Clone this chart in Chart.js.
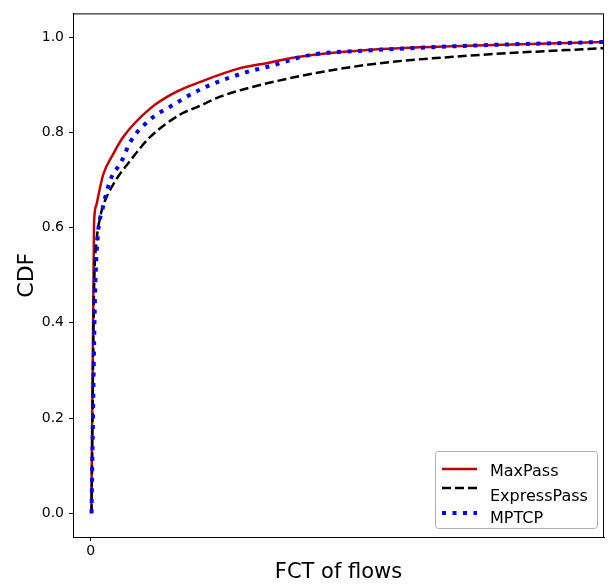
<!DOCTYPE html>
<html>
<head>
<meta charset="utf-8">
<script src="https://cdn.jsdelivr.net/npm/chart.js@4/dist/chart.umd.min.js"></script>
<style>
  html, body { margin: 0; padding: 0; background: #fff; }
  #wrap { width: 609px; height: 586px; }
</style>
</head>
<body>
<div id="wrap"><canvas id="myChart" width="609" height="586"></canvas></div>
<script>
// valeurs (x en unites arbitraires, 0 = premier tick)
const fctMaxPass = [0.12, 0.51, 0.64, 0.70, 1.17, 2.40, 4.35, 6.30, 11.56, 16.82, 21.31, 29.10, 34.95, 38.85, 53.86, 73.35, 100];
const cdfMaxPass = [0.0, 0.45, 0.60, 0.62, 0.65, 0.71, 0.754, 0.79, 0.85, 0.886, 0.906, 0.935, 0.947, 0.956, 0.973, 0.982, 0.99];

const fctExpress = [0.16, 0.64, 1.17, 1.81, 2.40, 4.35, 7.66, 11.56, 17.41, 21.31, 25.21, 36.31, 53.86, 73.35, 100];
const cdfExpress = [0.0, 0.46, 0.574, 0.62, 0.645, 0.69, 0.74, 0.79, 0.8375, 0.856, 0.875, 0.908, 0.942, 0.961, 0.977];

const fctMptcp = [0.16, 0.84, 1.42, 2.20, 3.76, 6.04, 7.66, 11.56, 15.46, 21.89, 30.47, 34.56, 42.75, 53.86, 73.35, 100];
const cdfMptcp = [0.0, 0.456, 0.5875, 0.634, 0.698, 0.74, 0.779, 0.827, 0.854, 0.893, 0.927, 0.938, 0.9625, 0.972, 0.982, 0.99];

const xTicks = [0];
const yTicks = [0, 0.2, 0.4, 0.6, 0.8, 1.0];

function points(xs, ys) {
  return xs.map((x, i) => ({ x: x, y: ys[i] }));
}

const series = [
  { label: "MaxPass", color: "#c00000", width: 2.5, dash: [], data: points(fctMaxPass, cdfMaxPass), order: 3 },
  { label: "ExpressPass", color: "#000000", width: 2.5, dash: [9, 4], data: points(fctExpress, cdfExpress), order: 2 },
  { label: "MPTCP", color: "#0000ff", width: 4, dash: [4, 6.5], data: points(fctMptcp, cdfMptcp), order: 1 },
];

// cadre + legende a la matplotlib
const framePlugin = {
  id: "frame",
  afterDatasetsDraw(chart) {
    const ctx = chart.ctx;
    const a = chart.chartArea;
    ctx.save();
    ctx.strokeStyle = "#000";
    ctx.lineWidth = 1;
    ctx.strokeRect(a.left + 0.5, a.top + 0.5, a.right - a.left - 1, a.bottom - a.top);

    // legende
    const bw = 162, bh = 77;
    const bx = a.right - 7 - bw, by = a.bottom - 9 - bh;
    ctx.beginPath();
    ctx.roundRect(bx + 0.5, by + 0.5, bw, bh, 3);
    ctx.fillStyle = "rgba(255,255,255,0.8)";
    ctx.fill();
    ctx.strokeStyle = "#b0b0b0";
    ctx.stroke();

    ctx.font = "16px 'DejaVu Sans'";
    ctx.textBaseline = "middle";
    ctx.fillStyle = "#000";
    const rows = [18, 37, 62];
    const textRows = [21, 46, 68];
    series.forEach((s, i) => {
      const y = by + rows[i];
      ctx.beginPath();
      ctx.strokeStyle = s.color;
      ctx.lineWidth = s.width;
      ctx.setLineDash(s.dash);
      ctx.moveTo(bx + 7, y);
      ctx.lineTo(bx + 42, y);
      ctx.stroke();
      ctx.setLineDash([]);
      ctx.fillText(s.label, bx + 55, by + textRows[i]);
    });
    ctx.restore();
  },
};

const config = {
  type: "line",
  data: {
    datasets: series.map((s) => ({
      label: s.label,
      data: s.data,
      borderColor: s.color,
      backgroundColor: s.color,
      borderWidth: s.width,
      borderDash: s.dash,
      borderCapStyle: "butt",
      pointRadius: 0,
      cubicInterpolationMode: "monotone",
      fill: false,
      order: s.order,
    })),
  },
  options: {
    responsive: false,
    animation: false,
    layout: { padding: { top: 8, right: 5, left: 0, bottom: 0 } },
    plugins: { legend: { display: false }, tooltip: { enabled: false } },
    scales: {
      x: {
        type: "linear",
        min: -3.45,
        max: 100,
        afterBuildTicks: (scale) => { scale.ticks = xTicks.map((v) => ({ value: v })); },
        afterFit: (scale) => { scale.height = 49; },
        grid: { display: true, drawOnChartArea: false, drawTicks: true, tickLength: 4, color: "#000" },
        border: { display: true, color: "#000", width: 1 },
        ticks: { color: "#000", font: { family: "DejaVu Sans", size: 14 }, padding: 2, maxRotation: 0 },
        title: { display: true, text: "FCT of flows", color: "#000", font: { family: "DejaVu Sans", size: 21 }, padding: { top: 2, bottom: 1 } },
      },
      y: {
        type: "linear",
        min: -0.05,
        max: 1.05,
        afterBuildTicks: (scale) => { scale.ticks = yTicks.map((v) => ({ value: v })); },
        afterFit: (scale) => { scale.width = 73; },
        grid: { display: true, drawOnChartArea: false, drawTicks: true, tickLength: 4, color: "#000" },
        border: { display: true, color: "#000", width: 1 },
        ticks: { color: "#000", font: { family: "DejaVu Sans", size: 14 }, padding: 5, callback: (v) => v.toFixed(1) },
        title: { display: true, text: "CDF", color: "#000", font: { family: "DejaVu Sans", size: 22 }, padding: { top: 14, bottom: 0 } },
      },
    },
  },
  plugins: [framePlugin],
};

const myChart = new Chart(document.getElementById("myChart"), config);
</script>
</body>
</html>
